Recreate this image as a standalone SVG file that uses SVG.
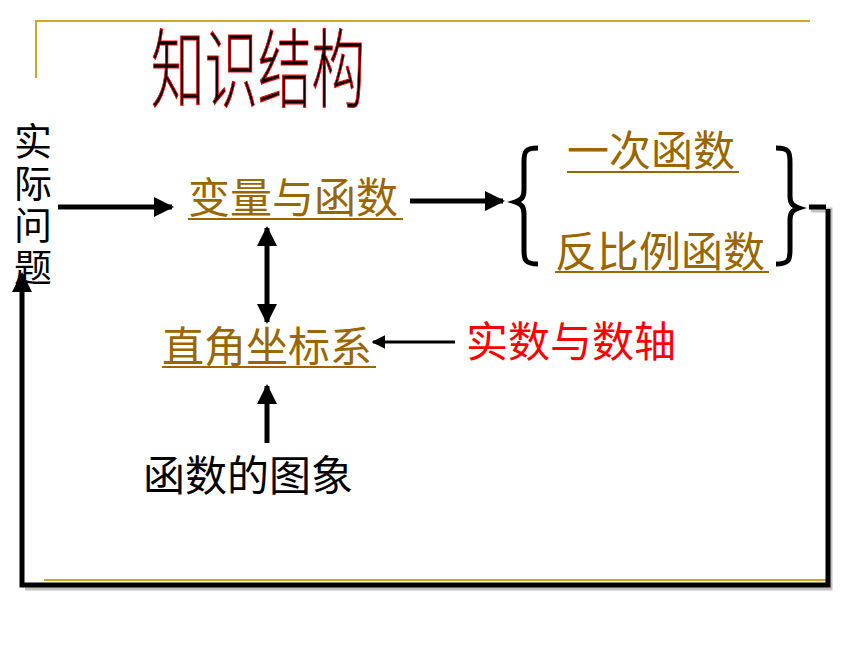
<svg xmlns="http://www.w3.org/2000/svg" width="860" height="645" viewBox="0 0 860 645">
<style>
text{font-family:"Noto Sans CJK SC","Liberation Sans",sans-serif;}
.gold{stroke:#D4A520;stroke-width:2;fill:none;}
.lbl{font-size:42px;}
.blk{fill:#000;}
.red{fill:#FF0000;}
.ln{stroke:#000;stroke-width:5;fill:none;}
.ln3{stroke:#000;stroke-width:3;fill:none;}
.ul{stroke:#996600;stroke-width:2;}
</style>
<defs>
<marker id="ah" viewBox="0 0 10 10" refX="9" refY="5" markerWidth="4" markerHeight="4" orient="auto-start-reverse" markerUnits="strokeWidth">
<path d="M0,0 L10,5 L0,10 z" fill="#000"/>
</marker>
<marker id="ah3" viewBox="0 0 10 10" refX="9" refY="5" markerWidth="4.5" markerHeight="4.5" orient="auto-start-reverse" markerUnits="strokeWidth">
<path d="M0,0 L10,5 L0,10 z" fill="#000"/>
</marker>
</defs>
<rect width="860" height="645" fill="#fff"/>
<g id="frame">
<polyline class="gold" points="36,78 36,21 810,21"/>
<line class="gold" x1="44" y1="580" x2="826" y2="580"/>
</g>
<g id="title">
<text x="151" y="101" font-size="86" font-weight="300" textLength="214" lengthAdjust="spacingAndGlyphs" fill="#000" stroke="#FF0000" stroke-width="1.1">知识结构</text>
</g>
<g id="node-shiji">
<text x="33" y="122" font-size="38" writing-mode="tb" glyph-orientation-vertical="0" letter-spacing="4" fill="#000">实际问题</text>
</g>
<g id="node-bianliang">
<text class="lbl" x="188" y="213" fill="#996600">变量与函数</text>
<line class="ul" x1="188" y1="219" x2="403" y2="219"/>
</g>
<g id="node-yici">
<text class="lbl" x="567" y="166" fill="#996600">一次函数</text>
<line class="ul" x1="567" y1="172" x2="739" y2="172"/>
</g>
<g id="node-fanbi">
<text class="lbl" x="555" y="267" fill="#996600">反比例函数</text>
<line class="ul" x1="555" y1="272" x2="769" y2="272"/>
</g>
<g id="node-zhijiao">
<text class="lbl" x="162" y="362" fill="#996600">直角坐标系</text>
<line class="ul" x1="162" y1="367" x2="376" y2="367"/>
</g>
<g id="node-shishu">
<text class="lbl red" x="466" y="357">实数与数轴</text>
</g>
<g id="node-tuxiang">
<text class="lbl blk" x="143" y="491">函数的图象</text>
</g>
<g id="braces">
<path class="ln" d="M538,148 C525,148 524,152 524,162 L524,190 C524,198 521,200 515,202 C521,204 524,206 524,214 L524,250 C524,260 525,264 538,264"/>
<path class="ln" d="M776,148 C789,148 790,152 790,162 L790,196 C790,204 793,206 799,208 C793,210 790,212 790,220 L790,250 C790,260 789,264 776,264"/>
</g>
<g id="connectors">
<line class="ln" x1="58" y1="207" x2="172" y2="207" marker-end="url(#ah)"/>
<line class="ln" x1="410" y1="201" x2="503" y2="201" marker-end="url(#ah)"/>
<line class="ln" x1="267" y1="228" x2="267" y2="322" marker-start="url(#ah)" marker-end="url(#ah)"/>
<line class="ln3" x1="455" y1="342" x2="373" y2="342" marker-end="url(#ah3)"/>
<line class="ln" x1="267" y1="443" x2="267" y2="386" marker-end="url(#ah)"/>
<g stroke="#999" stroke-width="5" fill="none" opacity="0.6">
<polyline points="811,210 830,210 830,588 25,588"/>
</g>
<polyline class="ln" points="809,207 826,207"/>
<polyline class="ln" points="828,209 828,585 22,585 22,274" marker-end="url(#ah)"/>
</g>
</svg>
